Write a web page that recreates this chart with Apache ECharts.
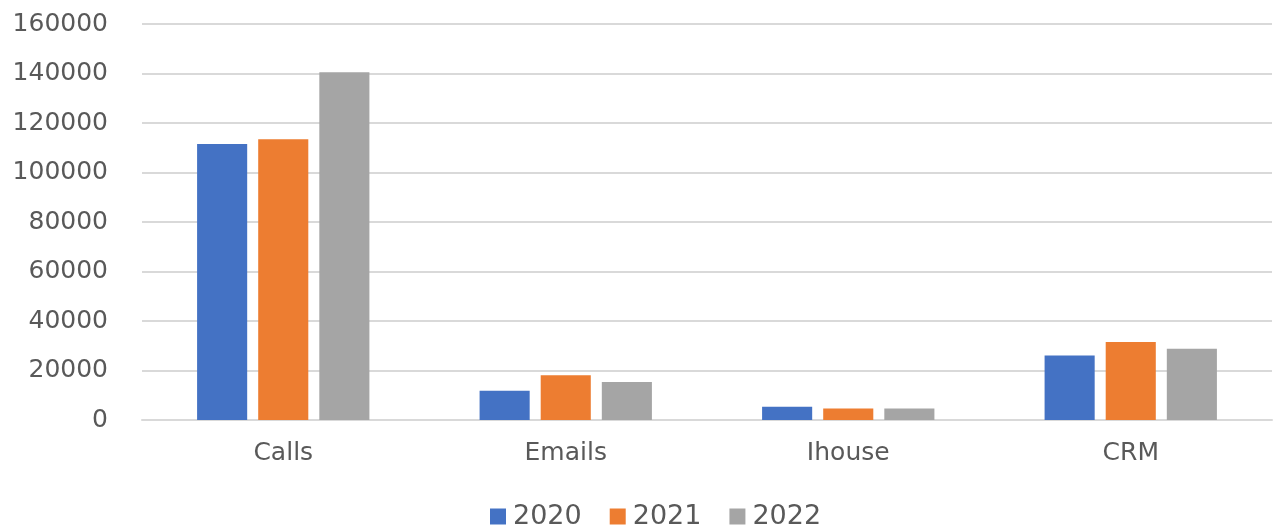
<!DOCTYPE html>
<html>
<head>
<meta charset="utf-8">
<script src="https://cdn.jsdelivr.net/npm/echarts@6/dist/echarts.min.js"></script>
<style>
  html, body { margin: 0; padding: 0; background: #fff; }
  #chart { width: 1278px; height: 525px; }
</style>
</head>
<body>
<div id="chart"></div>
<script>
const categories = ['Calls', 'Emails', 'Ihouse', 'CRM']
const years = ['2020', '2021', '2022']
const values2020 = [111500, 11800, 5400, 26100]
const values2021 = [113400, 18100, 4600, 31500]
const values2022 = [140500, 15400, 4600, 28800]
const yTicks = { min: 0, max: 160000, interval: 20000 }

const colors = ['#4472C4', '#ED7D31', '#A5A5A5']
const textColor = '#595959'
const gridColor = '#D9D9D9'
const font = 'DejaVu Sans'

const chart = echarts.init(document.getElementById('chart'))

chart.setOption({
  animation: false,
  color: colors,
  grid: { left: 142, right: 6, top: 24, bottom: 105, containLabel: false },
  legend: {
    data: years,
    top: 498,
    left: 485,
    icon: 'rect',
    itemWidth: 16,
    itemHeight: 16,
    itemGap: 28,
    textStyle: { color: textColor, fontSize: 27, fontFamily: font, padding: [0, 0, 0, 2] }
  },
  xAxis: {
    type: 'category',
    data: categories,
    axisLine: { show: true, lineStyle: { color: gridColor, width: 2 } },
    axisTick: { show: false },
    axisLabel: { color: textColor, fontSize: 25, fontFamily: font, margin: 21 }
  },
  yAxis: {
    type: 'value',
    min: yTicks.min,
    max: yTicks.max,
    interval: yTicks.interval,
    axisLine: { show: false },
    axisTick: { show: false },
    splitLine: { lineStyle: { color: gridColor, width: 2 } },
    axisLabel: {
      color: textColor,
      fontSize: 25,
      fontFamily: font,
      margin: 34,
      formatter: (value) => `${value}`
    }
  },
  series: [
    { name: years[0], type: 'bar', data: values2020, barGap: '22%', barCategoryGap: '39%' },
    { name: years[1], type: 'bar', data: values2021, barGap: '22%', barCategoryGap: '39%' },
    { name: years[2], type: 'bar', data: values2022, barGap: '22%', barCategoryGap: '39%' }
  ]
})
</script>
</body>
</html>
